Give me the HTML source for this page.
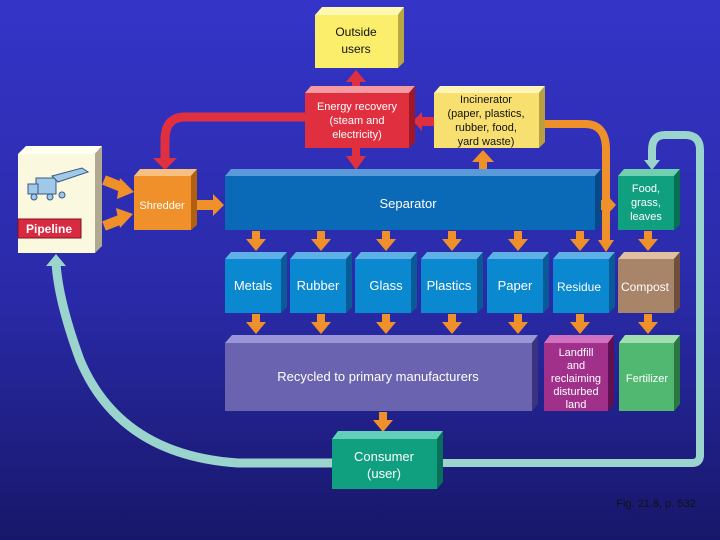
<!DOCTYPE html>
<html><head><meta charset="utf-8"><style>
html,body{margin:0;padding:0;width:720px;height:540px;overflow:hidden}
svg text{font-family:"Liberation Sans",Arial,sans-serif;fill:#fff;text-anchor:middle}
</style></head><body>
<svg width="720" height="540" viewBox="0 0 720 540">
<defs>
<linearGradient id="bg" x1="0" y1="0" x2="0" y2="1">
<stop offset="0" stop-color="#3434c8"/><stop offset="0.55" stop-color="#2a2aa8"/><stop offset="1" stop-color="#17176a"/>
</linearGradient>
<g id="dn" fill="#f0902a"><rect x="-4" y="0" width="8" height="10"/><polygon points="-10,8 10,8 0,20"/></g>
<g id="bx"><polygon points="0,8 6,1 62,1 56,8" fill="#60b0e8"/><polygon points="56,8 62,1 62,56 56,62" fill="#0a5a98"/><rect x="0" y="8" width="56" height="54" fill="#0a88d0"/></g>
</defs>
<rect width="720" height="540" fill="url(#bg)"/>

<!-- teal loop -->
<path d="M443 463 H692 Q700 463 700 455 V150 Q700 135 685 135 H665 Q652 135 652 150 V160" fill="none" stroke="#9ad4cc" stroke-width="8"/>
<polygon points="644,160 660,160 652,170" fill="#9ad4cc"/>
<path d="M332 463 H238 Q120 455 80 360 Q58 300 56 262" fill="none" stroke="#9ad4cc" stroke-width="9"/>
<polygon points="46,266 66,266 56,254" fill="#9ad4cc"/>

<!-- red arrows -->
<path d="M305 117 H185 Q165 117 165 140 V158" fill="none" stroke="#e03040" stroke-width="9"/>
<polygon points="153,158 177,158 165,170" fill="#e03040"/>
<rect x="352" y="80" width="8" height="8" fill="#e03040"/><polygon points="346,82 366,82 356,70" fill="#e03040"/>
<rect x="352" y="148" width="8" height="10" fill="#e03040"/><polygon points="346,156 366,156 356,170" fill="#e03040"/>
<rect x="420" y="117" width="14" height="9" fill="#e03040"/><polygon points="422,112 422,131 413,121" fill="#e03040"/>

<!-- orange arrows -->
<path d="M545 124 H585 Q606 124 606 150 V240" fill="none" stroke="#f0902a" stroke-width="8"/>
<polygon points="598,240 614,240 606,252" fill="#f0902a"/>
<rect x="479" y="160" width="8" height="10" fill="#f0902a"/><polygon points="472,162 494,162 483,150" fill="#f0902a"/>
<path d="M104 180 L124 188" stroke="#f0902a" stroke-width="10"/><polygon points="120,178 134,192 117,199" fill="#f0902a"/>
<path d="M104 226 L122 219" stroke="#f0902a" stroke-width="10"/><polygon points="116,208 133,214 120,228" fill="#f0902a"/>
<rect x="197" y="200" width="18" height="10" fill="#f0902a"/><polygon points="213,194 213,216 224,205" fill="#f0902a"/>
<rect x="601" y="200" width="8" height="10" fill="#f0902a"/><polygon points="606,194 606,216 616,205" fill="#f0902a"/>
<use href="#dn" x="256" y="231"/><use href="#dn" x="321" y="231"/><use href="#dn" x="386" y="231"/><use href="#dn" x="452" y="231"/><use href="#dn" x="518" y="231"/><use href="#dn" x="580" y="231"/><use href="#dn" x="648" y="231"/>
<use href="#dn" x="256" y="314"/><use href="#dn" x="321" y="314"/><use href="#dn" x="386" y="314"/><use href="#dn" x="452" y="314"/><use href="#dn" x="518" y="314"/><use href="#dn" x="580" y="314"/><use href="#dn" x="648" y="314"/>
<use href="#dn" x="383" y="412"/>

<g stroke="none">
<polygon points="315,15 322,7 404,7 398,15" fill="#fff8b0"/><polygon points="398,15 404,7 404,62 398,68" fill="#b8a840"/><rect x="315" y="15" width="83" height="53" fill="#fbee6a"/>
<polygon points="305,93 311,86 415,86 409,93" fill="#f59aa0"/><polygon points="409,93 415,86 415,142 409,148" fill="#a01828"/><rect x="305" y="93" width="104" height="55" fill="#e03040"/>
<polygon points="434,93 440,86 545,86 539,93" fill="#fff4b8"/><polygon points="539,93 545,86 545,142 539,148" fill="#b8a040"/><rect x="434" y="93" width="105" height="55" fill="#f8e070"/>
<polygon points="18,154 26,146 102,146 95,154" fill="#fffff0"/><polygon points="95,154 102,146 102,246 95,253" fill="#b0a890"/><rect x="18" y="154" width="77" height="99" fill="#fbf8e0"/>
<rect x="18" y="219" width="63" height="19" fill="#d82a40" stroke="#801020" stroke-width="1"/>
<polygon points="134,176 140,169 197,169 191,176" fill="#f8c080"/><polygon points="191,176 197,169 197,225 191,230" fill="#b06010"/><rect x="134" y="176" width="57" height="54" fill="#f0902a"/>
<polygon points="225,176 231,169 601,169 595,176" fill="#5a9ad8"/><polygon points="595,176 601,169 601,225 595,230" fill="#064a88"/><rect x="225" y="176" width="370" height="54" fill="#0a6ab8"/>
<polygon points="618,176 624,169 680,169 674,176" fill="#70d0b0"/><polygon points="674,176 680,169 680,225 674,230" fill="#087050"/><rect x="618" y="176" width="56" height="54" fill="#10a080"/>
<use href="#bx" x="225" y="251"/><use href="#bx" x="290" y="251"/><use href="#bx" x="355" y="251"/><use href="#bx" x="421" y="251"/><use href="#bx" x="487" y="251"/><use href="#bx" x="553" y="251"/>
<polygon points="618,259 624,252 680,252 674,259" fill="#e0c0a0"/><polygon points="674,259 680,252 680,307 674,313" fill="#70503a"/><rect x="618" y="259" width="56" height="54" fill="#a88468"/>
<polygon points="225,343 232,335 538,335 532,343" fill="#9a94d8"/><polygon points="532,343 538,335 538,404 532,411" fill="#3a3480"/><rect x="225" y="343" width="307" height="68" fill="#6a64b0"/>
<polygon points="544,343 550,335 614,335 608,343" fill="#d070c0"/><polygon points="608,343 614,335 614,404 608,411" fill="#601050"/><rect x="544" y="343" width="64" height="68" fill="#a0308a"/>
<polygon points="619,343 625,335 680,335 674,343" fill="#a0e0b0"/><polygon points="674,343 680,335 680,404 674,411" fill="#2a7840"/><rect x="619" y="343" width="55" height="68" fill="#50b870"/>
<polygon points="332,439 338,431 443,431 437,439" fill="#60d0b8"/><polygon points="437,439 443,431 443,482 437,489" fill="#087058"/><rect x="332" y="439" width="105" height="50" fill="#10a080"/>
</g>

<g fill="#a0c8e8" stroke="#3a5a80" stroke-width="1">
<rect x="36" y="178" width="20" height="16"/><rect x="28" y="184" width="10" height="10"/><polygon points="52,176 82,168 88,172 58,182"/>
<circle cx="34" cy="197" r="3"/><circle cx="50" cy="197" r="3"/><circle cx="62" cy="195" r="3"/>
</g>

<g font-size="12">
<text x="356" y="36" style="fill:#111">Outside</text><text x="356" y="53" style="fill:#111">users</text>
<text x="357" y="110" font-size="11">Energy recovery</text><text x="357" y="124" font-size="11">(steam and</text><text x="357" y="138" font-size="11">electricity)</text>
<text x="486" y="103" font-size="11" style="fill:#111">Incinerator</text><text x="486" y="117" font-size="11" style="fill:#111">(paper, plastics,</text><text x="486" y="131" font-size="11" style="fill:#111">rubber, food,</text><text x="486" y="145" font-size="11" style="fill:#111">yard waste)</text>
<text x="49" y="233" font-weight="bold" font-size="12">Pipeline</text>
<text x="162" y="209" font-size="11">Shredder</text>
<text x="408" y="208" font-size="13">Separator</text>
<text x="646" y="192" font-size="11">Food,</text><text x="646" y="206" font-size="11">grass,</text><text x="646" y="220" font-size="11">leaves</text>
<text x="253" y="290" font-size="13">Metals</text><text x="318" y="290" font-size="13">Rubber</text><text x="386" y="290" font-size="13">Glass</text><text x="449" y="290" font-size="13">Plastics</text><text x="515" y="290" font-size="13">Paper</text><text x="579" y="291" font-size="12">Residue</text><text x="645" y="291" font-size="12">Compost</text>
<text x="378" y="381" font-size="13">Recycled to primary manufacturers</text>
<text x="576" y="356" font-size="11">Landfill</text><text x="576" y="369" font-size="11">and</text><text x="576" y="382" font-size="11">reclaiming</text><text x="576" y="395" font-size="11">disturbed</text><text x="576" y="408" font-size="11">land</text>
<text x="647" y="382" font-size="11">Fertilizer</text>
<text x="384" y="461" font-size="13">Consumer</text><text x="384" y="478" font-size="13">(user)</text>
<text x="656" y="507" font-size="11" style="fill:#111">Fig. 21.8, p. 532</text>
</g>
</svg>
</body></html>
